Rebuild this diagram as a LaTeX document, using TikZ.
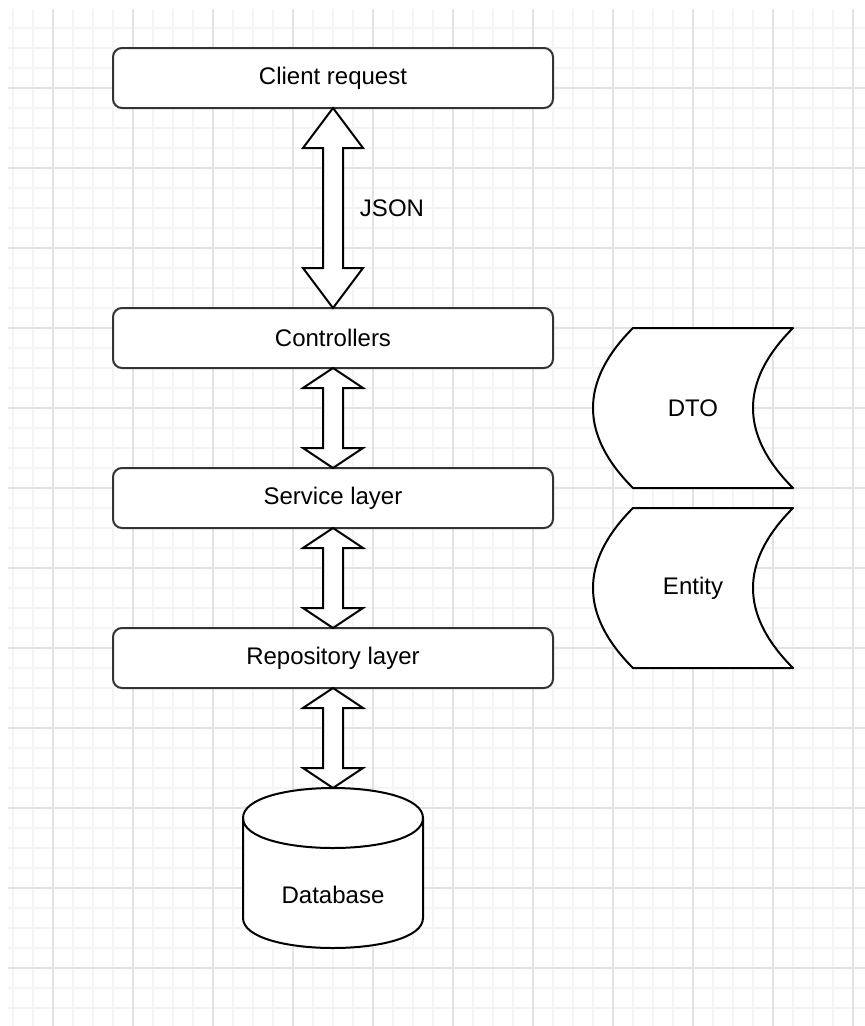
\documentclass[tikz,border=0pt]{standalone}
\usepackage{fontspec}
\setmainfont{Liberation Sans}
\usetikzlibrary{calc}
\definecolor{gridmajor}{RGB}{226,226,226}
\definecolor{gridminor}{RGB}{244,244,244}

% hollow two-headed arrow between two points; #3 = head length
\newcommand{\duplexarrow}[3]{%
  \draw[fat] let \p1=#1, \p2=#2 in
    (\p1) -- (\x1+30pt,\y1-#3) -- (\x1+10pt,\y1-#3) -- (\x1+10pt,\y2+#3)
    -- (\x1+30pt,\y2+#3) -- (\x1,\y2) -- (\x1-30pt,\y2+#3) -- (\x1-10pt,\y2+#3)
    -- (\x1-10pt,\y1-#3) -- (\x1-30pt,\y1-#3) -- cycle;}

\begin{document}
\begin{tikzpicture}[x=1pt,y=-1pt,
  txt/.style={font=\fontsize{24}{28}\selectfont, text=black},
  layer/.style={txt, draw=black!80, line width=2pt, rounded corners=9pt,
    minimum width=440pt, minimum height=60pt, inner sep=0pt, outer sep=0pt, fill=white},
  store/.style={draw=black, line width=2pt, fill=white, line join=round},
  fat/.style={draw=black, line width=2pt, fill=white, line join=miter},
  minorline/.style={gridminor, line width=1.5pt},
  majorline/.style={gridmajor, line width=1.5pt},
]
\useasboundingbox (0,0) rectangle (865,1026);
\fill[white] (0,0) rectangle (865,1026);

% background grid
\begin{scope}
  \clip (8,9) rectangle (865,1026);
  \foreach \x in {13,33,...,853} \draw[minorline] (\x,9) -- (\x,1026);
  \foreach \y in {28,48,...,1008} \draw[minorline] (8,\y) -- (865,\y);
  \foreach \x in {53,133,...,853} \draw[majorline] (\x,9) -- (\x,1026);
  \foreach \y in {88,168,...,968} \draw[majorline] (8,\y) -- (865,\y);
\end{scope}

% layers
\node[layer] (client) at (333,78)  {Client request};
\node[layer] (ctrl)   at (333,338) {Controllers};
\node[layer] (svc)    at (333,498) {Service layer};
\node[layer] (repo)   at (333,658) {Repository layer};

% database cylinder
\filldraw[store] (243,818) -- (243,918) .. controls (243,958) and (423,958) .. (423,918)
  -- (423,818) .. controls (423,778) and (243,778) .. (243,818) -- cycle;
\draw[store, fill=none] (243,818) .. controls (243,858) and (423,858) .. (423,818);
\coordinate (dbtop) at (333,788);
\node[txt] (db) at (333,895) {Database};

% stored-data shapes: convex left side, concave right side
\tikzset{stored/.pic={
  \filldraw[store] (-60,-80) -- (100,-80)
    .. controls (46.67,-26.67) and (46.67,26.67) .. (100,80)
    -- (-60,80)
    .. controls (-113.33,26.67) and (-113.33,-26.67) .. (-60,-80) -- cycle;}}
\pic at (693,408) {stored};
\node[txt] (dto) at (693,408) {DTO};
\pic at (693,588) {stored};
\node[txt] (entity) at (693,588) {Entity};

% data flow between layers
\duplexarrow{(client.south)}{(ctrl.north)}{40pt}
\duplexarrow{(ctrl.south)}{(svc.north)}{20pt}
\duplexarrow{(svc.south)}{(repo.north)}{20pt}
\duplexarrow{(repo.south)}{(dbtop)}{20pt}
\node[txt] (json) at (392,208) {JSON};
\end{tikzpicture}
\end{document}
